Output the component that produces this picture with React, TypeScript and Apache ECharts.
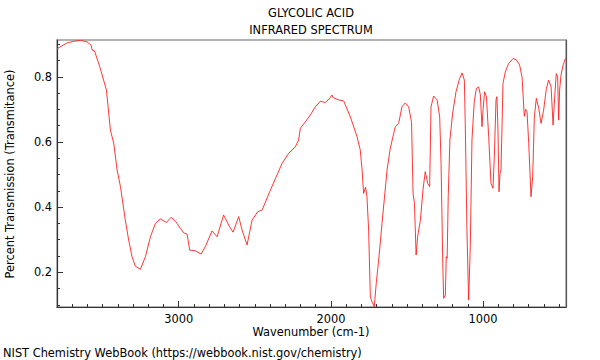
import React, { useEffect, useRef } from "react";
import * as echarts from "echarts";

const wavenumbers = [
  3800, 3760, 3734, 3690, 3646, 3602, 3576, 3569, 3554, 3519, 3475, 3449, 3427, 3405, 3383, 3351, 3329, 3307, 3285, 3252,
  3219, 3186, 3153, 3121, 3081, 3050, 3022, 2989, 2967, 2945, 2928, 2891, 2853, 2825, 2781, 2748, 2705, 2672, 2643, 2606,
  2584, 2551, 2518, 2481, 2452, 2398, 2321, 2278, 2234, 2212, 2201, 2168, 2135, 2102, 2069, 2037, 2008, 1993, 1985, 1949,
  1916, 1872, 1828, 1807, 1795, 1785, 1772, 1763, 1752, 1741, 1730, 1715, 1702, 1686, 1664, 1631, 1610, 1577, 1555, 1533,
  1511, 1489, 1470, 1460, 1451, 1440, 1430, 1412, 1395, 1380, 1364, 1351, 1342, 1325, 1302, 1285, 1276, 1265, 1259, 1248,
  1242, 1236, 1229, 1218, 1200, 1178, 1154, 1138, 1123, 1117, 1106, 1095, 1084, 1073, 1058, 1044, 1029, 1018, 1007, 1000,
  990, 978, 963, 948, 935, 926, 915, 909, 902, 895, 889, 882, 869, 854, 832, 803, 782, 760, 744, 729,
  720, 711, 700, 685, 674, 663, 650, 634, 619, 602, 584, 569, 553, 540, 530, 519, 510, 503, 497, 488,
  474, 459,
];

const transmittance = [
  0.886, 0.897, 0.904, 0.909, 0.912, 0.907, 0.897, 0.882, 0.880, 0.831, 0.759, 0.636, 0.596, 0.514, 0.463, 0.360, 0.299, 0.248, 0.219, 0.209,
  0.248, 0.309, 0.350, 0.364, 0.353, 0.369, 0.357, 0.335, 0.321, 0.317, 0.268, 0.266, 0.256, 0.279, 0.327, 0.309, 0.376, 0.345, 0.323, 0.371,
  0.330, 0.284, 0.360, 0.386, 0.391, 0.452, 0.534, 0.565, 0.585, 0.606, 0.642, 0.662, 0.683, 0.708, 0.725, 0.721, 0.734, 0.744, 0.736, 0.729,
  0.726, 0.677, 0.616, 0.575, 0.514, 0.442, 0.461, 0.432, 0.330, 0.125, 0.110, 0.094, 0.166, 0.238, 0.350, 0.514, 0.580, 0.647, 0.657, 0.708,
  0.720, 0.708, 0.660, 0.442, 0.412, 0.253, 0.309, 0.360, 0.452, 0.509, 0.473, 0.463, 0.708, 0.741, 0.729, 0.677, 0.534, 0.228, 0.120, 0.130,
  0.248, 0.243, 0.432, 0.606, 0.688, 0.754, 0.795, 0.812, 0.790, 0.657, 0.330, 0.115, 0.279, 0.606, 0.723, 0.764, 0.769, 0.745, 0.647, 0.700,
  0.754, 0.739, 0.616, 0.473, 0.458, 0.555, 0.729, 0.739, 0.636, 0.447, 0.504, 0.514, 0.780, 0.815, 0.841, 0.856, 0.853, 0.836, 0.800, 0.679,
  0.700, 0.693, 0.596, 0.432, 0.493, 0.677, 0.734, 0.703, 0.657, 0.698, 0.764, 0.790, 0.769, 0.652, 0.734, 0.810, 0.800, 0.667, 0.759, 0.805,
  0.836, 0.856,
];

const xMajorTicks = [1000, 2000, 3000];
const xMinorTicks = [500, 600, 700, 800, 900, 1000, 1100, 1200, 1300, 1400, 1500, 1600, 1700, 1800, 1900, 2000, 2100, 2200, 2300, 2400, 2500, 2600, 2700, 2800, 2900, 3000, 3100, 3200, 3300, 3400, 3500, 3600, 3700, 3800];
const yMajorTicks = [0.2, 0.4, 0.6, 0.8];
const yMinorTicks = [0.1, 0.15, 0.2, 0.25, 0.3, 0.35, 0.4, 0.45, 0.5, 0.55, 0.6, 0.65, 0.7, 0.75, 0.8, 0.85, 0.9];

const X_MIN = 455;
const X_MAX = 3800;
const Y_MIN = 0.0935;
const Y_MAX = 0.913;

const titleLines = ["GLYCOLIC ACID", "INFRARED SPECTRUM"];
const xAxisName = "Wavenumber (cm-1)";
const yAxisName = "Percent Transmission (Transmitance)";
const footer = "NIST Chemistry WebBook (https://webbook.nist.gov/chemistry)";

const FONT = "DejaVu Sans";
const FS = 11.4;

export default function App() {
  const ref = useRef<HTMLDivElement>(null);
  useEffect(() => {
    if (!ref.current) return;
    const chart = echarts.init(ref.current, undefined, { renderer: "svg" });
    const data = wavenumbers.map((w, i) => [w, transmittance[i]]);
    const baseX = { type: "value", min: X_MIN, max: X_MAX, inverse: true, splitLine: { show: false } };
    const baseY = { type: "value", min: Y_MIN, max: Y_MAX, splitLine: { show: false } };
    chart.setOption({
      animation: false,
      backgroundColor: "#fff",
      grid: { left: 57, right: 34, top: 40, bottom: 53, show: true, borderColor: "#999", borderWidth: 1.3, backgroundColor: "transparent" },
      xAxis: [
        {
          ...baseX,
          position: "bottom",
          axisLine: { show: true, lineStyle: { color: "#333", width: 1.2 } },
          axisTick: { show: true, inside: true, length: 3, customValues: xMinorTicks, lineStyle: { color: "#333" } },
          axisLabel: { show: false },
        },
        {
          ...baseX,
          position: "bottom",
          axisLine: { show: false },
          axisTick: { show: true, inside: true, length: 6, customValues: xMajorTicks, lineStyle: { color: "#333" } },
          axisLabel: { show: true, customValues: xMajorTicks, margin: 6, fontSize: FS, fontFamily: FONT, color: "#000", formatter: (v: number) => String(v) },
        },
      ],
      yAxis: [
        {
          ...baseY,
          position: "left",
          axisLine: { show: true, lineStyle: { color: "#333", width: 1.2 } },
          axisTick: { show: true, inside: true, length: 3, customValues: yMinorTicks, lineStyle: { color: "#333" } },
          axisLabel: { show: false },
        },
        {
          ...baseY,
          position: "left",
          axisLine: { show: false },
          axisTick: { show: true, inside: true, length: 6, customValues: yMajorTicks, lineStyle: { color: "#333" } },
          axisLabel: { show: true, customValues: yMajorTicks, margin: 5, fontSize: FS, fontFamily: FONT, color: "#000", formatter: (v: number) => v.toFixed(1) },
        },
        {
          ...baseY,
          position: "right",
          axisLine: { show: true, lineStyle: { color: "#555", width: 1.2 } },
          axisTick: { show: false },
          axisLabel: { show: false },
        },
      ],
      series: [
        {
          type: "line",
          xAxisIndex: 0,
          yAxisIndex: 0,
          data,
          showSymbol: false,
          symbol: "none",
          clip: true,
          lineStyle: { color: "#ff2020", width: 0.9 },
        },
      ],
      graphic: [
        { type: "text", x: 311, y: 13, style: { text: titleLines[0], fontSize: FS, fontFamily: FONT, fill: "#000", textAlign: "center", textVerticalAlign: "middle" } },
        { type: "text", x: 311, y: 30, style: { text: titleLines[1], fontSize: FS, fontFamily: FONT, fill: "#000", textAlign: "center", textVerticalAlign: "middle" } },
        { type: "text", x: 311, y: 332, style: { text: xAxisName, fontSize: FS, fontFamily: FONT, fill: "#000", textAlign: "center", textVerticalAlign: "middle" } },
        { type: "text", x: 10, y: 174, rotation: Math.PI / 2, style: { text: yAxisName, fontSize: FS, fontFamily: FONT, fill: "#000", textAlign: "center", textVerticalAlign: "middle" } },
        { type: "text", x: 3, y: 353, style: { text: footer, fontSize: FS, fontFamily: FONT, fill: "#000", textAlign: "left", textVerticalAlign: "middle" } },
      ],
    });
    return () => chart.dispose();
  }, []);
  return <div ref={ref} style={{ position: "absolute", left: 0, top: 0, width: 600, height: 360 }} />;
}
